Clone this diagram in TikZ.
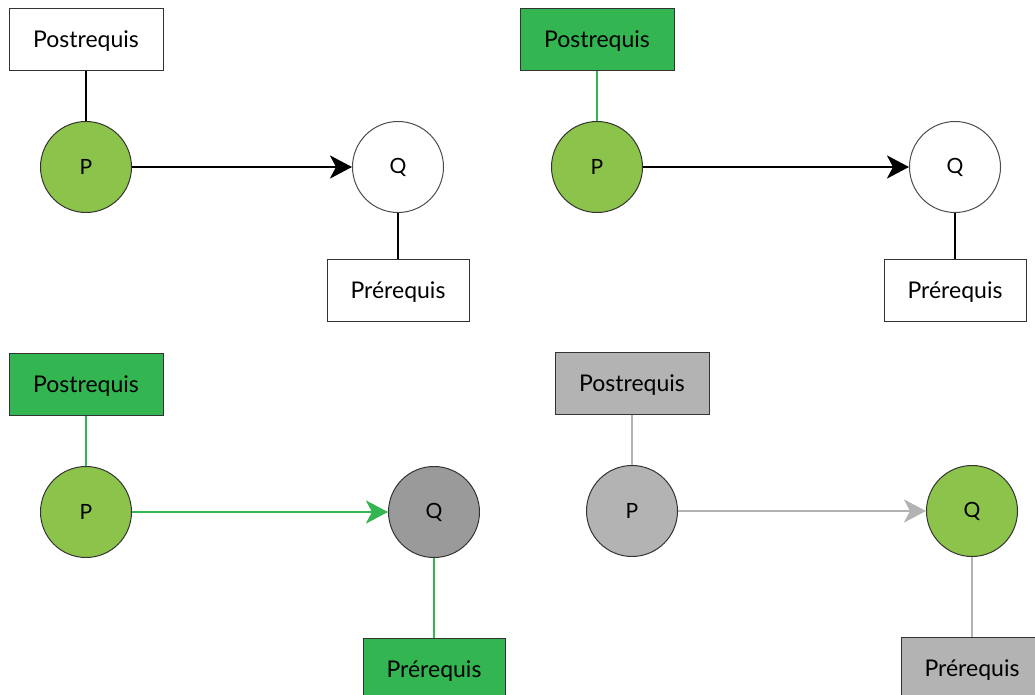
\documentclass[tikz,border=0pt]{standalone}
\usepackage{fontspec}
\setmainfont{Lato}
\usetikzlibrary{arrows.meta,positioning}
\definecolor{leaf}{HTML}{8CC34B}
\definecolor{moss}{HTML}{33B552}
\definecolor{ash}{HTML}{B3B3B3}
\definecolor{stone}{HTML}{9A9A9A}
\definecolor{rim}{HTML}{333333}
\tikzset{
  >={Stealth[length=22pt,width=23pt,inset=6pt]},
  tagbox/.style={draw=rim,line width=1pt,minimum width=154pt,minimum height=62pt,
                 inner sep=0pt,text depth=0pt,font=\fontsize{23}{27}\selectfont},
  item/.style={circle,draw=rim,line width=1pt,minimum size=91pt,inner sep=0pt,
               font=\fontsize{21}{24}\selectfont},
  heavy/.style={line width=2.9pt},
  light/.style={line width=1.3pt},
}
\begin{document}
\begin{tikzpicture}[x=1pt,y=-1pt]
  \useasboundingbox (0,0) rectangle (1035,695);
  % top left
  \node[item,fill=leaf] (p1) at (86,167) {P};
  \node[item,fill=white,draw=black!70] (q1) at (398,167) {Q};
  \node[tagbox,fill=white,above=50pt of p1] (post1) {Postrequis};
  \node[tagbox,fill=white,minimum width=142pt,below=46pt of q1] (pre1) {Prérequis};
  \draw[heavy] (post1)--(p1);
  \draw[heavy,->] (p1)--(q1);
  \draw[light] (q1)--(pre1);
  % top right
  \node[item,fill=leaf] (p2) at (597,167) {P};
  \node[item,fill=white,draw=black!70] (q2) at (955,167) {Q};
  \node[tagbox,fill=moss,above=50pt of p2] (post2) {Postrequis};
  \node[tagbox,fill=white,minimum width=142pt,below=46pt of q2] (pre2) {Prérequis};
  \draw[light,draw=moss] (post2)--(p2);
  \draw[heavy,->] (p2)--(q2);
  \draw[heavy] (q2)--(pre2);
  % bottom left
  \node[item,fill=leaf] (p3) at (86,512) {P};
  \node[item,fill=stone] (q3) at (434,512) {Q};
  \node[tagbox,fill=moss,above=50pt of p3] (post3) {Postrequis};
  \node[tagbox,fill=moss,minimum width=142pt,below=80pt of q3] (pre3) {Prérequis};
  \draw[heavy,draw=moss] (post3)--(p3);
  \draw[heavy,draw=moss,->] (p3)--(q3);
  \draw[heavy,draw=moss] (q3)--(pre3);
  % bottom right
  \node[item,fill=ash] (p4) at (632,511) {P};
  \node[item,fill=leaf] (q4) at (972,511) {Q};
  \node[tagbox,fill=ash,above=50pt of p4] (post4) {Postrequis};
  \node[tagbox,fill=ash,minimum width=142pt,below=80pt of q4] (pre4) {Prérequis};
  \draw[heavy,draw=ash] (post4)--(p4);
  \draw[heavy,draw=ash,->] (p4)--(q4);
  \draw[heavy,draw=ash] (q4)--(pre4);
\end{tikzpicture}
\end{document}
